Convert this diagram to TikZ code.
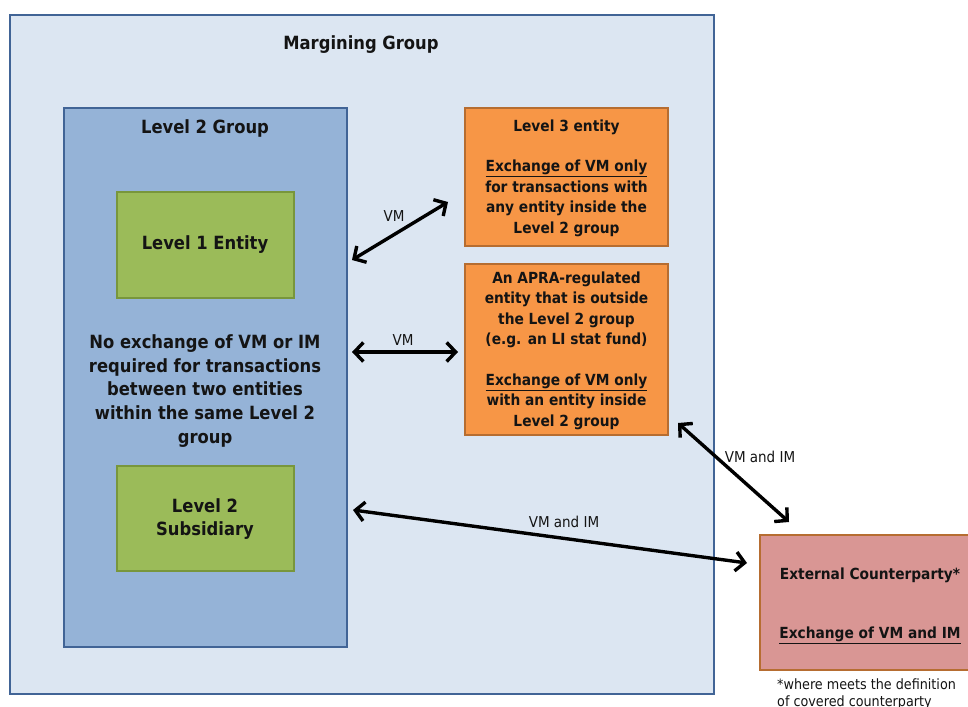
\documentclass[tikz,border=0pt]{standalone}
\usepackage{fontspec}
\IfFontExistsTF{DejaVu Sans Condensed}{\setmainfont{DejaVu Sans Condensed}}{\setmainfont{DejaVu Sans}}
\usetikzlibrary{arrows.meta,calc}
\definecolor{outerfill}{RGB}{220,230,242}
\definecolor{blueline}{RGB}{65,100,150}
\definecolor{lvltwofill}{RGB}{149,179,215}
\definecolor{greenfill}{RGB}{155,187,89}
\definecolor{greenline}{RGB}{120,150,60}
\definecolor{orangefill}{RGB}{247,150,70}
\definecolor{brownline}{RGB}{182,109,49}
\definecolor{pinkfill}{RGB}{217,150,148}
\definecolor{txt}{RGB}{20,20,20}
\tikzset{
  boxbase/.style={draw, inner sep=0pt, outer sep=0pt},
  outerbox/.style={boxbase, fill=outerfill, draw=blueline, line width=2pt},
  bluebox/.style={boxbase, fill=lvltwofill, draw=blueline, line width=2.2pt},
  greenbox/.style={boxbase, fill=greenfill, draw=greenline, line width=2.2pt},
  orangebox/.style={boxbase, fill=orangefill, draw=brownline, line width=2.2pt},
  pinkbox/.style={boxbase, fill=pinkfill, draw=brownline, line width=2.2pt},
  bigtxt/.style={text=txt, align=center, font=\bfseries\fontsize{18.2}{23.6}\selectfont, inner sep=0pt},
  midtxt/.style={text=txt, align=center, font=\bfseries\fontsize{15.3}{20.4}\selectfont, inner sep=0pt},
  lbltxt/.style={text=txt, font=\fontsize{15}{16}\selectfont, inner sep=0pt},
  dblarrow/.style={line width=3.4pt, {Straight Barb[length=9pt,width=19pt]}-{Straight Barb[length=9pt,width=19pt]}},
}
\begin{document}
\begin{tikzpicture}[x=1pt,y=-1pt]
\useasboundingbox (0,0) rectangle (968,706);
% outer
\node[outerbox, minimum width=704pt, minimum height=679pt] (mg) at (362,354.5) {};
\node[bigtxt] (mgt) at (361,45) {Margining Group};
% level 2 group
\node[bluebox, minimum width=283pt, minimum height=539pt] (l2) at (205.5,377.5) {};
\node[bigtxt] (l2t) at (205,128) {Level 2 Group};
\node[greenbox, minimum width=177pt, minimum height=106pt] (l1) at (205.5,245) {};
\node[bigtxt] (l1t) at (205,245) {Level 1 Entity};
\node[bigtxt] (l2mid) at (205,391) {No exchange of VM or IM\\required for transactions\\between two entities\\within the same Level 2\\group};
\node[greenbox, minimum width=177pt, minimum height=105pt] (sub) at (205.5,518.5) {};
\node[bigtxt] (subt) at (205,519) {Level 2\\Subsidiary};
% level 3
\node[orangebox, minimum width=203pt, minimum height=138pt] (l3) at (566.5,177) {};
\node[midtxt] (l3t) at (566.5,178) {Level 3 entity\\[20.4pt]\underline{Exchange of VM only}\\for transactions with\\any entity inside the\\Level 2 group};
% APRA
\node[orangebox, minimum width=203pt, minimum height=171pt] (apra) at (566.5,349.5) {};
\node[midtxt] (apt) at (566.5,350.5) {An APRA-regulated\\entity that is outside\\the Level 2 group\\(e.g. an LI stat fund)\\[20.4pt]\underline{Exchange of VM only}\\with an entity inside\\Level 2 group};
% external
\node[pinkbox, minimum width=220pt, minimum height=135pt] (ext) at (870,602.5) {};
\node[midtxt] (ext1) at (870,575) {External Counterparty*};
\node[midtxt] (ext2) at (870,635) {\underline{Exchange of VM and IM}};
\node[lbltxt, anchor=west, align=left, font=\fontsize{14.2}{17}\selectfont] (fn) at (777,694) {*where meets the definition\\of covered counterparty};
% arrow end points
\coordinate (a1s) at (352,260);
\coordinate (a1e) at (448,202);
\coordinate (a3s) at (353,510);
\coordinate (a3e) at (747,563);
\coordinate (a4s) at (678,423);
\coordinate (a4e) at (789,522);
\draw[dblarrow] (a1s) -- (a1e);
\draw[dblarrow] ([xshift=5pt]l2.east |- 0,352) -- ([xshift=-7pt]apra.west |- 0,352);
\draw[dblarrow] (a3s) -- (a3e);
\draw[dblarrow] (a4s) -- (a4e);
\node[lbltxt] (v1) at (394,216) {VM};
\node[lbltxt] (v2) at (403,340) {VM};
\node[lbltxt] (v3) at (564,522) {VM and IM};
\node[lbltxt] (v4) at (760,457) {VM and IM};
\end{tikzpicture}
\end{document}
